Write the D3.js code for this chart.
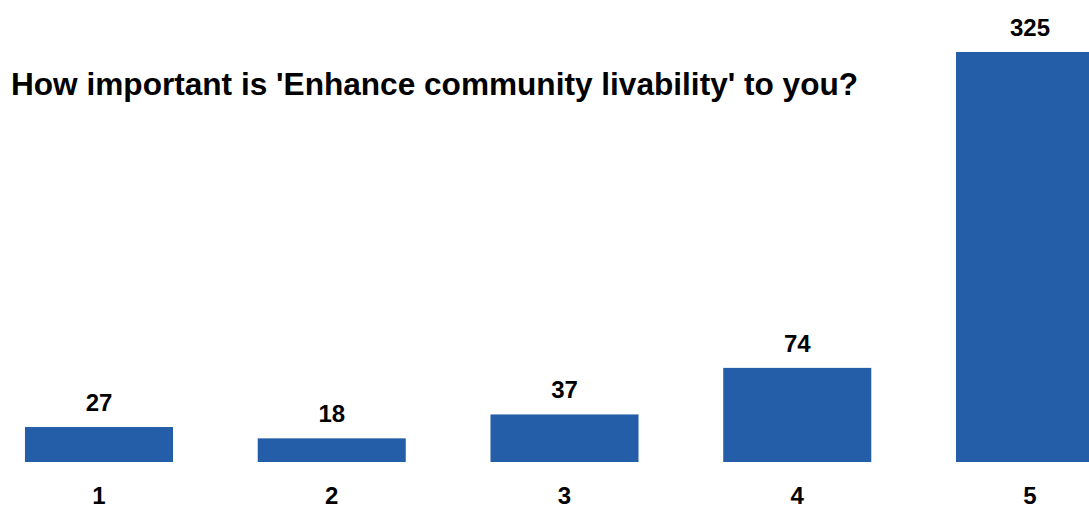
<!DOCTYPE html>
<html>
<head>
<meta charset="utf-8">
<script src="https://cdn.jsdelivr.net/npm/d3@7"></script>
<style>
  html, body { margin: 0; padding: 0; background: #fff; overflow: hidden; }
  text { font-family: "Liberation Sans", Arial, sans-serif; font-weight: bold; fill: #000; }
</style>
</head>
<body>
<svg id="chart" width="1089" height="506"></svg>
<script>
const title = "How important is 'Enhance community livability' to you?";
const categories = ['1', '2', '3', '4', '5'];
const counts = [27, 18, 37, 74, 325];

const WIDTH = 1089;
const HEIGHT = 506;
const BASELINE = 462;
const BAR_COLOR = '#245ea8';

const svg = d3.select('#chart');

// band scale: step ~232.75px, bars 148px wide, last bar runs off the right edge
const x = d3.scaleBand()
    .domain(categories)
    .range([-17.4, 1146.4])
    .paddingInner(0.364)
    .paddingOuter(0.182);

const y = d3.scaleLinear()
    .domain([0, 325])
    .range([BASELINE, 53]);

const data = categories.map((c, i) => ({ category: c, value: counts[i] }));

// bars
svg.append('g')
    .selectAll('rect')
    .data(data)
    .enter().append('rect')
    .attr('x', d => x(d.category))
    .attr('y', d => y(d.value) - 1)
    .attr('width', x.bandwidth())
    .attr('height', d => BASELINE - y(d.value) + 1)
    .attr('fill', BAR_COLOR);

// value labels
svg.append('g')
    .selectAll('text')
    .data(data)
    .enter().append('text')
    .attr('x', d => x(d.category) + x.bandwidth() / 2)
    .attr('y', d => y(d.value) - 17)
    .attr('text-anchor', 'middle')
    .attr('font-size', '24px')
    .text(d => d.value);

// category axis
const axis = svg.append('g')
    .attr('transform', `translate(0,${BASELINE})`)
    .call(d3.axisBottom(x).tickSize(0).tickPadding(25));
axis.select('.domain').remove();
axis.selectAll('text')
    .attr('font-size', '24px')
    .style('font-family', '"Liberation Sans", Arial, sans-serif')
    .style('font-weight', 'bold')
    .attr('fill', '#000');

// title
svg.append('text')
    .attr('x', 11)
    .attr('y', 95)
    .attr('font-size', '31.6px')
    .text(title);
</script>
</body>
</html>
